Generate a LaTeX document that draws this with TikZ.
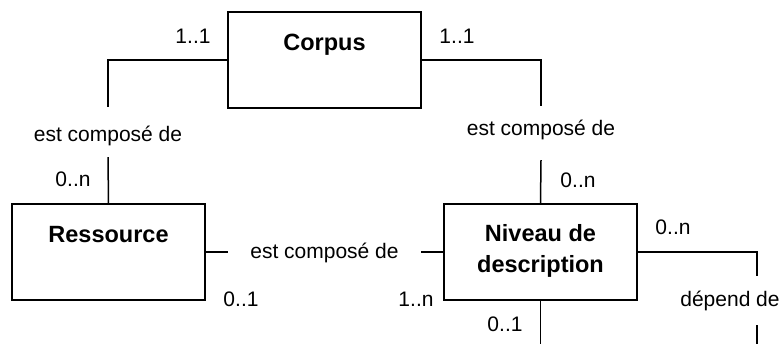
\documentclass[tikz,border=0pt]{standalone}
\usepackage{fontspec}
\setmainfont{Liberation Sans}
\usetikzlibrary{calc}
\tikzset{
  entity/.style={draw, line width=1.5pt, minimum width=193pt, minimum height=96pt, inner sep=0pt,
    align=center, font=\bfseries\fontsize{23.5}{31}\selectfont, text height=38pt, text depth=58pt},
  relation/.style={inner sep=0pt, anchor=base, font=\fontsize{21}{25}\selectfont, text height=34pt, text depth=16pt},
  mult/.style={inner sep=0pt, font=\fontsize{21}{25}\selectfont},
  link/.style={line width=1.5pt}
}

\begin{document}
\begin{tikzpicture}[x=1pt, y=-1pt]
\useasboundingbox (0,0) rectangle (781,343);
% entites
\node[entity] (corpus) at (324.5,60) {Corpus};
\node[entity] (ressource) at (108.5,252) {Ressource};
\node[entity, text height=68pt, text depth=28pt] (niveau) at (540.5,252) {Niveau de\\description};
% associations
\node[relation] (compRes) at (108,141) {est composé de};
\node[relation, text height=29pt, text depth=25pt] (compNiv) at (541,135) {est composé de};
\node[relation, minimum width=193pt] (compResNiv) at (324.5,258) {est composé de};
\node[relation, text height=30pt, text depth=19pt] (depend) at (730,306) {dépend de};
% liens
\draw[link] (corpus.west) -| (compRes.north);
\draw[link] (compRes.south) -- (ressource.north);
\draw[link] (corpus.east) -| (compNiv.north);
\draw[link] (compNiv.south) -- (niveau.north);
\draw[link] (ressource.east) -- (ressource.east -| compResNiv.west);
\draw[link] (niveau.west -| compResNiv.east) -- (niveau.west);
\draw[link] (niveau.east) -| ([xshift=27pt]depend.north);
\draw[link] ([xshift=27pt]depend.south) -- ++(0,20);
\draw[link] (niveau.south) -- ++(0,45);
% cardinalites
\node[mult] (c1) at (193,36) {1..1};
\node[mult] (c2) at (457,36) {1..1};
\node[mult] (c3) at (73,179) {0..n};
\node[mult] (c4) at (578,180) {0..n};
\node[mult] (c5) at (673,227) {0..n};
\node[mult] (c6) at (241,299) {0..1};
\node[mult] (c7) at (416,299) {1..n};
\node[mult] (c8) at (505,324) {0..1};
\end{tikzpicture}
\end{document}
